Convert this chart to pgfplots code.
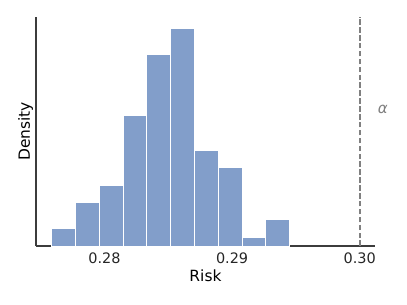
\documentclass[border=0pt]{standalone}
\usepackage{pgfplots}
\pgfplotsset{compat=1.18}
\usepackage{fontspec}
\setmainfont{DejaVu Sans}
\definecolor{barblue}{RGB}{130,158,202}
\definecolor{spine}{RGB}{60,60,60}
\definecolor{ticktext}{RGB}{38,38,38}
\definecolor{vgray}{RGB}{128,128,128}
\begin{document}
\fontsize{14.5}{17}\selectfont
\begin{tikzpicture}[x=1bp,y=1bp]
\path[use as bounding box] (0,0) rectangle (407,305);
\begin{axis}[
  at={(36bp,59bp)}, anchor=south west,
  scale only axis, width=339bp, height=229.3bp,
  xmin=0.27463, xmax=0.3012, ymin=0, ymax=26.35,
  axis x line*=bottom, axis y line*=left,
  axis line style={spine, line width=1.4bp, -},
  xtick={0.28,0.29,0.30}, xticklabels={0.28,0.29,0.30},
  ytick=\empty,
  major tick length=0pt,
  xticklabel style={font=\fontsize{14.5}{17}\selectfont, text=ticktext, yshift=-2bp},
  /pgf/number format/assume math mode=true,
  xlabel={Risk}, ylabel={Density},
  label style={font=\fontsize{15.5}{18}\selectfont, text=black},
  xlabel style={yshift=4bp},
  ylabel style={yshift=-2bp},
  clip=false,
]
\addplot[ybar interval, fill=barblue, draw=white, line width=0.8bp] coordinates {
(0.27586,2) (0.27772,5) (0.27959,7) (0.28145,15) (0.28331,22)
(0.28518,25) (0.28704,11) (0.28890,9) (0.29077,1) (0.29263,3) (0.29449,0)
};
\addplot[vgray, line width=1.8bp, dash pattern=on 5.5bp off 2.4bp] coordinates {(0.30,0) (0.30,26.35)};
\node[text=vgray, font=\fontsize{15}{18}\selectfont\itshape] at (axis cs:0.30182,15.7) {α};
\end{axis}
\end{tikzpicture}
\end{document}
